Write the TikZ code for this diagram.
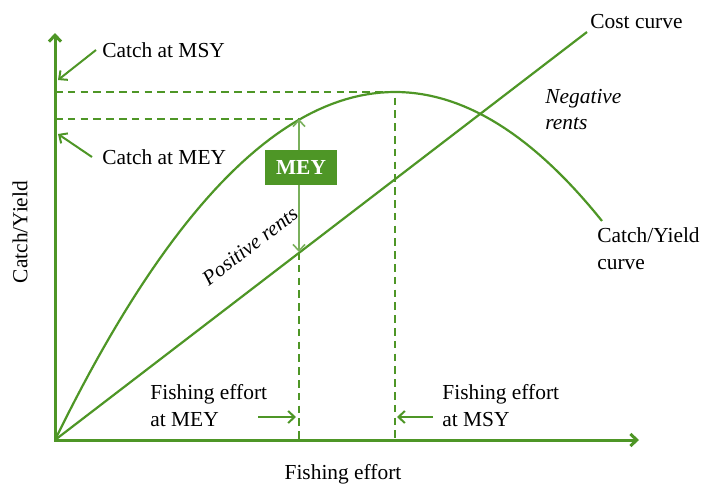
\documentclass[tikz,border=0pt]{standalone}
\usepackage{fontspec}
\setmainfont{Liberation Serif}
\usetikzlibrary{calc}
\usetikzlibrary{arrows.meta}
\usepackage{xcolor}
\definecolor{fishgreen}{RGB}{78,150,38}

\begin{document}
\begin{tikzpicture}[x=0.5pt,y=-0.5pt,
  >={Straight Barb[length=3.2pt,width=6pt]},
  every node/.style={inner sep=1pt,font=\fontsize{10.7}{13.5}\selectfont},
  curve/.style={fishgreen,line width=1.1pt},
  guide/.style={fishgreen,line width=1.1pt,dash pattern=on 3.8pt off 2.6pt},
  pointer/.style={fishgreen,line width=1pt,->}]
\useasboundingbox (0,0) rectangle (706,487);
% axes
\coordinate (O) at (55,440);
\coordinate (ytip) at (55,33);
\coordinate (xtip) at (639,440);
\draw[curve,line width=1.5pt,<->] (ytip)--(O)--(xtip);
\node[rotate=90] (ylab) at (20,232) {Catch/Yield};
\node (xlab) at (343,474) {Fishing effort};
% MSY and MEY guides
\coordinate (msy) at (395,92);
\coordinate (mey) at (299,119);
\coordinate (meycost) at (299,252);
\draw[guide] (O|-msy)--(msy)--(msy|-O);
\draw[guide] (O|-mey)--(mey);
\draw[guide] (meycost)--(mey|-O);
% curves
\draw[curve] plot[domain=55:602,samples=80] (\x,{92+348*((\x-395)/340)^2});
\draw[curve] (O)--(587,32);
\draw[fishgreen!75,line width=0.8pt,<->] (mey)--(meycost);
\node[fill=fishgreen,text=white,font=\fontsize{10.7}{12}\selectfont\bfseries,
  minimum width=36pt,minimum height=17.5pt] (meybox) at (301,167) {MEY};
% labels
\node[anchor=west] (cmsy) at (100,50) {Catch at MSY};
\node[anchor=west] (cmey) at (100,157) {Catch at MEY};
\draw[pointer] ($(cmsy.west)+(-4,0)$)--(58,80);
\draw[pointer] ($(cmey.west)+(-8,0)$)--(58,134);
\node[anchor=west] (cost) at (588,22) {Cost curve};
\node[anchor=west,align=left] (yield) at (595,249) {Catch/Yield\\curve};
\node[anchor=west,align=left,font=\fontsize{10.7}{13}\selectfont\itshape] (neg) at (543,110) {Negative\\rents};
\node[rotate=37.5,font=\fontsize{10.5}{13}\selectfont\itshape] (pos) at (250,246) {Positive rents};
\node[anchor=west,align=left] (femey) at (148,406) {Fishing effort\\at MEY};
\node[anchor=west,align=left] (femsy) at (440,406) {Fishing effort\\at MSY};
\draw[pointer] (258,417)--(296,417);
\draw[pointer] (433,417)--(397,417);
\end{tikzpicture}
\end{document}
